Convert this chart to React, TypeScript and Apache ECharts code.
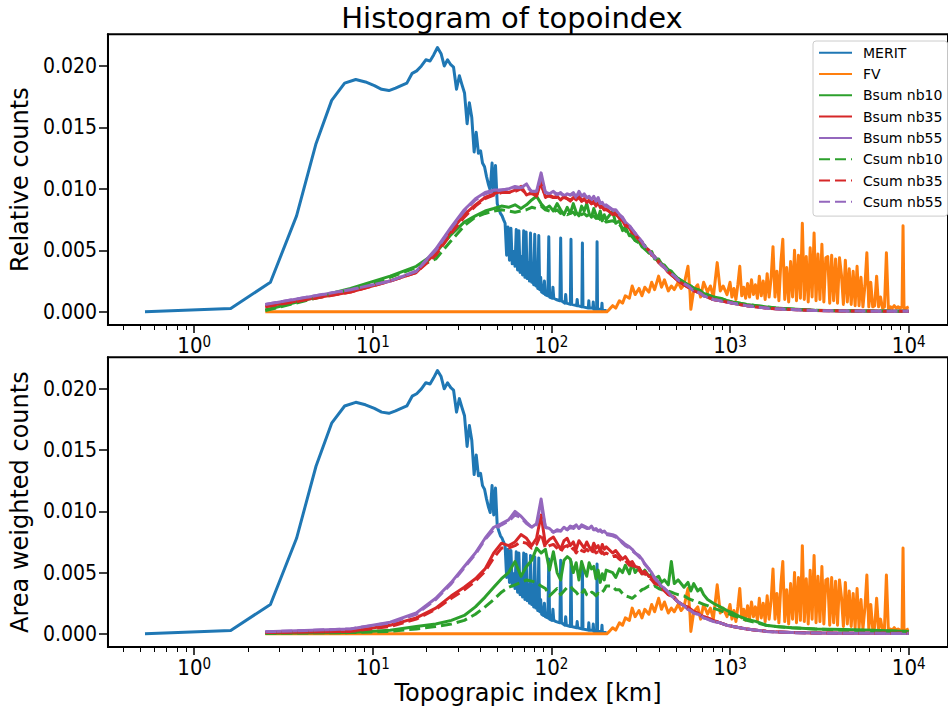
import React, { useEffect, useRef } from 'react';
import * as echarts from 'echarts';

// ---------- data (x in km, y = counts) ----------
const MERIT: [number, number][] = [
  [0.53, 0], [1.6, 0.00027], [2.67, 0.0024], [3.74, 0.0078], [4.81, 0.0137], [5.88, 0.0172],
  [6.95, 0.0186], [8.02, 0.0189], [9.09, 0.0187], [10.2, 0.0184], [11.2, 0.0181], [12.3, 0.018],
  [13.4, 0.0182], [14.4, 0.0184], [15.5, 0.0186], [16.6, 0.0194], [17.6, 0.0196], [18.7, 0.02],
  [19.8, 0.0205], [20.9, 0.0204], [21.9, 0.0209], [23.0, 0.0215], [24.1, 0.021], [25.1, 0.02],
  [26.2, 0.0205], [27.3, 0.0201], [28.3, 0.0199], [29.4, 0.0181], [30.5, 0.0192], [31.5, 0.0185],
  [32.6, 0.0178], [33.7, 0.0153], [34.7, 0.017], [35.8, 0.0158], [36.9, 0.013], [37.9, 0.0146],
  [39.0, 0.0129], [40.1, 0.0131], [41.1, 0.0121], [42.2, 0.0118], [43.3, 0.011], [44.3, 0.0104],
  [45.4, 0.0099], [46.5, 0.0121], [47.5, 0.0097], [48.6, 0.0119], [49.7, 0.0088], [50.7, 0.0084],
  [51.8, 0.008], [52.9, 0.0078], [53.9, 0.0075], [55.0, 0.0072], [56.1, 0.0046], [57.1, 0.0069],
  [58.2, 0.0042], [59.3, 0.0068], [60.3, 0.0039], [61.4, 0.0049], [62.5, 0.0037], [63.5, 0.0067],
  [64.6, 0.0034], [65.7, 0.0066], [66.7, 0.0032], [67.8, 0.0045], [68.9, 0.003], [69.9, 0.0066],
  [71.0, 0.0028], [72.1, 0.0065], [73.1, 0.0027], [74.2, 0.004], [75.3, 0.0025], [76.3, 0.0064],
  [77.4, 0.0024], [78.5, 0.0035], [79.5, 0.0022], [80.6, 0.0063], [81.7, 0.0021], [82.7, 0.003],
  [83.8, 0.0019], [84.9, 0.0062], [85.9, 0.0018], [87.0, 0.0028], [88.1, 0.0016], [90.2, 0.0015],
  [91.3, 0.0025], [92.3, 0.0014], [95.5, 0.0013], [96.6, 0.0061], [97.6, 0.0012], [100.8, 0.0011],
  [101.9, 0.002], [103.0, 0.0011], [106.2, 0.001], [111.5, 0.0009], [112.6, 0.006], [113.7, 0.0009],
  [119.0, 0.0007], [120.1, 0.0014], [121.2, 0.0007], [127.6, 0.0006], [128.6, 0.0059], [129.7, 0.0006],
  [138.3, 0.0005], [139.3, 0.001], [140.4, 0.0005], [148.0, 0.0004], [149.0, 0.0056], [150.1, 0.0004],
  [160.8, 0.0003], [161.8, 0.0009], [162.9, 0.0003], [170.4, 0.0003], [171.4, 0.0008], [172.5, 0.0002],
  [179.0, 0.0002], [180.0, 0.0057], [181.1, 0.0002], [190.7, 0.0002], [191.8, 0.0007], [192.8, 0.0001],
  [203.5, 0.0001],
];

const FV: [number, number][] = [
  [2.5, 0], [204, 0], [211, 0.0002], [220, 0.0005], [229, 0.0003], [240, 0.0009], [250, 0.0007],
  [259, 0.0013], [273, 0.0011], [283, 0.0021], [294, 0.0014], [309, 0.0019], [321, 0.0013],
  [333, 0.002], [351, 0.0016], [364, 0.0024], [378, 0.0018], [398, 0.0029], [413, 0.002],
  [429, 0.0026], [451, 0.0017], [469, 0.0021], [487, 0.0018], [512, 0.0024], [532, 0.0019],
  [552, 0.0022], [581, 0.0037], [597, 0.0015], [603, 0.0002], [626, 0.0018], [659, 0.0022],
  [684, 0.0012], [711, 0.0024], [748, 0.0016], [776, 0.0021], [806, 0.0012], [847, 0.004],
  [881, 0.0017], [914, 0.0021], [961, 0.0014],
  [999, 0.0024], [1024, 0.0012], [1051, 0.0019], [1078, 0.001], [1105, 0.0022], [1133, 0.0037],
  [1162, 0.0013], [1192, 0.002], [1222, 0.0011], [1253, 0.0023], [1285, 0.0012], [1318, 0.0026],
  [1352, 0.0014], [1386, 0.0022], [1422, 0.0011], [1458, 0.0029], [1495, 0.0013], [1533, 0.0025],
  [1572, 0.001], [1613, 0.0031], [1654, 0.0012], [1696, 0.0027], [1739, 0.0053], [1784, 0.0012],
  [1829, 0.0033], [1876, 0.0009], [1924, 0.004], [1973, 0.0059], [2023, 0.001], [2075, 0.0036],
  [2128, 0.0008], [2182, 0.0041], [2238, 0.0012], [2295, 0.005], [2353, 0.0009], [2414, 0.0046],
  [2475, 0.0011], [2538, 0.0072], [2603, 0.001], [2670, 0.0045], [2738, 0.0008], [2808, 0.0052],
  [2879, 0.0012], [2953, 0.0064], [3028, 0.0009], [3105, 0.0047], [3185, 0.001], [3266, 0.0055],
  [3349, 0.0008], [3435, 0.0044], [3522, 0.0045], [3612, 0.0007], [3704, 0.0046], [3799, 0.0009],
  [3896, 0.0043], [3995, 0.0007], [4097, 0.0044], [4202, 0.003], [4309, 0.0006], [4419, 0.0042],
  [4532, 0.0008], [4647, 0.0035], [4766, 0.0006], [4888, 0.0033], [5012, 0.0005], [5140, 0.0037],
  [5272, 0.0005], [5406, 0.0028], [5544, 0.0004], [5686, 0.0021], [5831, 0.0048], [5979, 0.0004],
  [6132, 0.0024], [6288, 0.0004], [6449, 0.0005], [6613, 0.0029], [6782, 0.0004], [6955, 0.0012],
  [7133, 0.0003], [7315, 0.0004], [7502, 0.0048], [7693, 0.0003], [7889, 0.0004], [8091, 0.0003],
  [8297, 0.0005], [8509, 0.0003], [8726, 0.0004], [8949, 0.0003], [9177, 0.0004], [9296, 0.007],
  [9411, 0.0003], [9652, 0.0003], [10000, 0.0004],
];

// bin centres (km) shared by the Bsum / Csum histograms
const BIN_X = [
  2.5, 7.5, 12.5, 17.5, 22.5, 27.5, 32.5, 37.5, 42.5, 47.5, 52.5, 57.5, 62.5, 67.5, 72.5, 77.5,
  82.5, 87.5, 92.5, 97.5, 102.5, 107.5, 112.5, 117.5, 122.5, 127.5, 132.5, 137.5, 142.5, 147.5,
  152.5, 157.5, 162.5, 167.5, 172.5, 177.5, 182.5, 187.5, 192.5, 197.5, 202.5,
  220, 229, 240, 250, 259, 273, 283, 294, 309, 321, 333, 351, 364, 378, 398, 413, 429, 451, 469,
  487, 512, 552, 581, 603, 626, 659, 684, 711, 748, 806, 881, 961, 1037, 1133, 1238, 1404, 1593,
  1806, 2210, 2991, 4365, 6370, 10000,
];

// ----- top panel: relative counts -----
const REL_BSUM_NB10 = [
  0.00015, 0.0019, 0.0029, 0.0037, 0.0048, 0.0063, 0.0073, 0.0078, 0.0082, 0.0084, 0.0086, 0.0085, 0.0087, 0.0084,
  0.0087, 0.0091, 0.0094, 0.0088, 0.0084, 0.0086, 0.0082, 0.0088, 0.0083, 0.0079, 0.0085, 0.008, 0.0088, 0.0081,
  0.0078, 0.0086, 0.0082, 0.0088, 0.008, 0.0077, 0.0084, 0.0079, 0.0076, 0.0082, 0.0074, 0.0079, 0.0075,
  0.0082, 0.0072, 0.0074, 0.0066, 0.0069, 0.0062, 0.0064, 0.0058, 0.0057, 0.0053, 0.0054, 0.0048, 0.0049, 0.0043,
  0.0043, 0.0039, 0.0038, 0.0034, 0.0033, 0.003, 0.0027, 0.0024, 0.0022, 0.0021, 0.0019, 0.0018, 0.0017, 0.0015,
  0.0014, 0.0012, 0.0011, 0.0009, 0.0008, 0.0007, 0.0006, 0.0005, 0.0004, 0.0003, 0.00022, 0.00013, 0.00008,
  0.00006, 0.00005,
];
const REL_BSUM_NB35 = [
  0.00045, 0.0016, 0.0025, 0.0032, 0.0048, 0.0066, 0.0079, 0.0087, 0.0093, 0.0096, 0.0098, 0.0097, 0.0099, 0.0102,
  0.0095, 0.0097, 0.0094, 0.0106, 0.0093, 0.0095, 0.0093, 0.0094, 0.0091, 0.0094, 0.0092, 0.009, 0.0093, 0.0091,
  0.0095, 0.009, 0.0092, 0.0089, 0.0091, 0.0088, 0.009, 0.0086, 0.0089, 0.0085, 0.0086, 0.0083, 0.0084,
  0.0079, 0.0081, 0.0076, 0.0074, 0.007, 0.0069, 0.0064, 0.0063, 0.0058, 0.0057, 0.0052, 0.005, 0.0046, 0.0045,
  0.004, 0.0038, 0.0036, 0.0032, 0.003, 0.0028, 0.0025, 0.0022, 0.002, 0.0019, 0.0017, 0.0016, 0.0015, 0.0013,
  0.0012, 0.001, 0.0009, 0.0008, 0.0007, 0.0006, 0.0005, 0.0004, 0.0003, 0.00025, 0.00018, 0.0001, 0.00007,
  0.00005, 0.00004,
];
const REL_BSUM_NB55 = [
  0.0006, 0.0018, 0.0025, 0.0033, 0.0051, 0.0069, 0.0083, 0.0092, 0.0097, 0.0099, 0.0099, 0.01, 0.0102, 0.0101,
  0.0104, 0.0097, 0.0098, 0.0113, 0.0097, 0.0096, 0.0098, 0.0095, 0.0097, 0.0094, 0.0096, 0.0095, 0.0097, 0.0093,
  0.0098, 0.0094, 0.0096, 0.0093, 0.0094, 0.0091, 0.0094, 0.009, 0.0093, 0.0088, 0.0089, 0.0086, 0.0087,
  0.0083, 0.0083, 0.0079, 0.0077, 0.0073, 0.007, 0.0067, 0.0064, 0.006, 0.0057, 0.0053, 0.005, 0.0047, 0.0045,
  0.0041, 0.0039, 0.0036, 0.0033, 0.0031, 0.0029, 0.0026, 0.0023, 0.0021, 0.0019, 0.0017, 0.0016, 0.0015, 0.0013,
  0.0012, 0.001, 0.0009, 0.0008, 0.0007, 0.0006, 0.0005, 0.0004, 0.0003, 0.00025, 0.00018, 0.0001, 0.00007,
  0.00005, 0.00004,
];
const REL_CSUM_NB10 = [
  0.0001, 0.0018, 0.0028, 0.0036, 0.0043, 0.0058, 0.007, 0.0077, 0.008, 0.0082, 0.0083, 0.0082, 0.0081, 0.0082,
  0.0083, 0.0085, 0.0084, 0.0086, 0.0083, 0.0082, 0.0081, 0.0083, 0.008, 0.0081, 0.0079, 0.008, 0.0081, 0.0078,
  0.008, 0.0079, 0.008, 0.0078, 0.0079, 0.0077, 0.0078, 0.0076, 0.0077, 0.0075, 0.0074, 0.0075, 0.0073,
  0.0074, 0.0073, 0.0071, 0.0068, 0.0066, 0.0063, 0.0061, 0.0058, 0.0056, 0.0053, 0.0051, 0.0048, 0.0046, 0.0044,
  0.0041, 0.0039, 0.0037, 0.0034, 0.0032, 0.003, 0.0027, 0.0024, 0.0022, 0.0021, 0.0019, 0.0018, 0.0017, 0.0015,
  0.0014, 0.0012, 0.0011, 0.0009, 0.0008, 0.0007, 0.0006, 0.0005, 0.0004, 0.0003, 0.00022, 0.00013, 0.00008,
  0.00006, 0.00005,
];
const REL_CSUM_NB35 = [
  0.0004, 0.0016, 0.0025, 0.0032, 0.0046, 0.0064, 0.0077, 0.0086, 0.0092, 0.0095, 0.0097, 0.0097, 0.0098, 0.01,
  0.0096, 0.0096, 0.0095, 0.0103, 0.0094, 0.0094, 0.0093, 0.0093, 0.0092, 0.0093, 0.0092, 0.0091, 0.0092, 0.0091,
  0.0093, 0.009, 0.0091, 0.0089, 0.009, 0.0088, 0.0089, 0.0087, 0.0088, 0.0085, 0.0085, 0.0083, 0.0083,
  0.008, 0.0079, 0.0077, 0.0074, 0.0071, 0.0068, 0.0065, 0.0062, 0.0059, 0.0056, 0.0053, 0.005, 0.0047, 0.0044,
  0.0041, 0.0038, 0.0036, 0.0033, 0.003, 0.0028, 0.0025, 0.0022, 0.002, 0.0019, 0.0017, 0.0016, 0.0015, 0.0013,
  0.0012, 0.001, 0.0009, 0.0008, 0.0007, 0.0006, 0.0005, 0.0004, 0.0003, 0.00025, 0.00018, 0.0001, 0.00007,
  0.00005, 0.00004,
];
const REL_CSUM_NB55 = [
  0.0006, 0.0018, 0.0025, 0.0033, 0.005, 0.0068, 0.0082, 0.0091, 0.0096, 0.0098, 0.0099, 0.01, 0.0101, 0.0101,
  0.0102, 0.0098, 0.0098, 0.0109, 0.0097, 0.0096, 0.0097, 0.0096, 0.0096, 0.0095, 0.0095, 0.0095, 0.0096, 0.0094,
  0.0096, 0.0094, 0.0095, 0.0093, 0.0093, 0.0092, 0.0093, 0.009, 0.0092, 0.0088, 0.0088, 0.0086, 0.0086,
  0.0083, 0.0081, 0.0079, 0.0076, 0.0073, 0.007, 0.0067, 0.0064, 0.006, 0.0057, 0.0053, 0.005, 0.0047, 0.0044,
  0.0041, 0.0038, 0.0036, 0.0033, 0.0031, 0.0029, 0.0026, 0.0023, 0.0021, 0.0019, 0.0017, 0.0016, 0.0015, 0.0013,
  0.0012, 0.001, 0.0009, 0.0008, 0.0007, 0.0006, 0.0005, 0.0004, 0.0003, 0.00025, 0.00018, 0.0001, 0.00007,
  0.00005, 0.00004,
];

// ----- bottom panel: area weighted counts -----
const AW_BSUM_NB10 = [
  0.00005, 0.0001, 0.0003, 0.0006, 0.0008, 0.0011, 0.0015, 0.0022, 0.003, 0.0038, 0.0045, 0.005, 0.0059, 0.0047,
  0.0055, 0.006, 0.007, 0.0066, 0.0069, 0.0052, 0.0067, 0.005, 0.0044, 0.006, 0.0063, 0.0061, 0.005, 0.0058,
  0.0044, 0.0059, 0.0052, 0.0047, 0.0058, 0.0053, 0.0055, 0.0045, 0.0052, 0.0042, 0.0049, 0.0044, 0.0052,
  0.005, 0.0046, 0.0053, 0.005, 0.0056, 0.0049, 0.0058, 0.005, 0.0054, 0.0049, 0.0052, 0.0047, 0.0049, 0.0045,
  0.0047, 0.0042, 0.0044, 0.004, 0.0059, 0.0041, 0.0044, 0.0038, 0.0042, 0.0035, 0.0041, 0.0035, 0.0037, 0.0032,
  0.0028, 0.0025, 0.0022, 0.0019, 0.0017, 0.0014, 0.0012, 0.001, 0.0007, 0.0006, 0.0005, 0.0004, 0.00035, 0.0003,
  0.0002,
];
const AW_BSUM_NB35 = [
  0.0001, 0.0002, 0.0007, 0.0013, 0.0021, 0.0031, 0.0038, 0.0045, 0.0053, 0.0066, 0.0074, 0.0072, 0.0075, 0.0081,
  0.0078, 0.0072, 0.0078, 0.0097, 0.0073, 0.0077, 0.0079, 0.0074, 0.0069, 0.0076, 0.0078, 0.0072, 0.0075, 0.0069,
  0.0076, 0.0073, 0.007, 0.0075, 0.0071, 0.0068, 0.0074, 0.007, 0.0072, 0.0067, 0.0073, 0.0069, 0.0071,
  0.0066, 0.0068, 0.0064, 0.0061, 0.0063, 0.0058, 0.0059, 0.0055, 0.0054, 0.005, 0.0051, 0.0047, 0.0046, 0.0042,
  0.0041, 0.0037, 0.0036, 0.0032, 0.0031, 0.003, 0.0026, 0.0023, 0.0022, 0.002, 0.0018, 0.0017, 0.0015, 0.0014,
  0.0013, 0.0011, 0.0009, 0.0007, 0.0006, 0.0005, 0.0004, 0.0003, 0.00022, 0.00016, 0.00011, 0.00007, 0.00005,
  0.00004, 0.00004,
];
const AW_BSUM_NB55 = [
  0.00016, 0.0004, 0.00095, 0.0017, 0.0029, 0.0042, 0.0055, 0.0066, 0.0078, 0.0087, 0.009, 0.0093, 0.01, 0.0096,
  0.0091, 0.0087, 0.009, 0.011, 0.0087, 0.0086, 0.0083, 0.0085, 0.0084, 0.0087, 0.0085, 0.0088, 0.0087, 0.0089,
  0.0086, 0.0089, 0.0088, 0.0087, 0.0086, 0.0088, 0.0085, 0.0086, 0.0084, 0.0085, 0.0083, 0.0084, 0.0082,
  0.0081, 0.008, 0.0077, 0.0075, 0.0073, 0.0071, 0.0069, 0.0066, 0.0064, 0.0061, 0.0057, 0.0053, 0.005, 0.0045,
  0.0042, 0.0039, 0.0037, 0.0034, 0.0031, 0.0029, 0.0026, 0.0023, 0.002, 0.0019, 0.0017, 0.0016, 0.0015, 0.0013,
  0.0012, 0.001, 0.0009, 0.0007, 0.0006, 0.0005, 0.0004, 0.0003, 0.0002, 0.00015, 0.0001, 0.00006, 0.00005,
  0.00004, 0.00003,
];
const AW_CSUM_NB10 = [
  0.00005, 0.0001, 0.0002, 0.0004, 0.0006, 0.0008, 0.0011, 0.0016, 0.0022, 0.0028, 0.0034, 0.0038, 0.004, 0.0042,
  0.0044, 0.0043, 0.0042, 0.0039, 0.0037, 0.0031, 0.0034, 0.0037, 0.0032, 0.0035, 0.0038, 0.0039, 0.0036, 0.0034,
  0.0031, 0.0033, 0.0036, 0.0032, 0.0031, 0.0034, 0.0033, 0.0031, 0.0033, 0.0032, 0.0034, 0.0036, 0.0039,
  0.0039, 0.0036, 0.0036, 0.0033, 0.0031, 0.003, 0.0029, 0.0031, 0.0034, 0.0036, 0.0037, 0.0039, 0.0038, 0.0039,
  0.0037, 0.0036, 0.0036, 0.0035, 0.0034, 0.0033, 0.0032, 0.0031, 0.0029, 0.0028, 0.0027, 0.0026, 0.0025, 0.0024,
  0.0023, 0.0021, 0.0019, 0.0017, 0.0015, 0.0013, 0.0011, 0.0009, 0.0007, 0.0006, 0.0005, 0.0004, 0.0003, 0.00025,
  0.0002,
];
const AW_CSUM_NB35 = [
  0.0001, 0.0002, 0.0006, 0.0012, 0.002, 0.0029, 0.0036, 0.0043, 0.0051, 0.0062, 0.007, 0.007, 0.0072, 0.0075,
  0.0074, 0.007, 0.0073, 0.0082, 0.007, 0.0072, 0.0073, 0.007, 0.0067, 0.0071, 0.0072, 0.0068, 0.007, 0.0066,
  0.007, 0.0068, 0.0067, 0.0069, 0.0067, 0.0065, 0.0069, 0.0066, 0.0067, 0.0064, 0.0067, 0.0065, 0.0066,
  0.0063, 0.0064, 0.0061, 0.0059, 0.006, 0.0056, 0.0056, 0.0053, 0.0052, 0.0049, 0.0049, 0.0046, 0.0044, 0.0041,
  0.004, 0.0037, 0.0035, 0.0032, 0.0031, 0.0029, 0.0026, 0.0023, 0.0021, 0.002, 0.0018, 0.0017, 0.0015, 0.0014,
  0.0013, 0.0011, 0.0009, 0.0007, 0.0006, 0.0005, 0.0004, 0.0003, 0.00022, 0.00016, 0.00011, 0.00007, 0.00005,
  0.00004, 0.00004,
];
const AW_CSUM_NB55 = [
  0.00016, 0.0004, 0.0009, 0.0016, 0.0028, 0.0041, 0.0054, 0.0065, 0.0077, 0.0085, 0.0089, 0.0092, 0.0097, 0.0095,
  0.009, 0.0087, 0.0089, 0.0104, 0.0087, 0.0085, 0.0083, 0.0084, 0.0084, 0.0086, 0.0085, 0.0087, 0.0086, 0.0088,
  0.0086, 0.0088, 0.0087, 0.0086, 0.0086, 0.0087, 0.0085, 0.0085, 0.0084, 0.0084, 0.0083, 0.0083, 0.0081,
  0.008, 0.0079, 0.0077, 0.0074, 0.0072, 0.007, 0.0068, 0.0066, 0.0063, 0.006, 0.0057, 0.0053, 0.0049, 0.0046,
  0.0042, 0.0039, 0.0037, 0.0034, 0.0031, 0.0029, 0.0026, 0.0023, 0.002, 0.0019, 0.0017, 0.0016, 0.0015, 0.0013,
  0.0012, 0.001, 0.0009, 0.0007, 0.0006, 0.0005, 0.0004, 0.0003, 0.0002, 0.00015, 0.0001, 0.00006, 0.00005,
  0.00004, 0.00003,
];

// axis ticks
const X_MAJOR_EXP = [0, 1, 2, 3, 4];
const X_MINOR_MULT = [2, 3, 4, 5, 6, 7, 8, 9];
const Y_TICKS = [0, 0.005, 0.01, 0.015, 0.02];
const X_MIN = -0.483; // log10 of km
const X_MAX = 4.22;
const Y_MIN = -0.001075;
const Y_MAX = 0.022575;

const NAMES = ['MERIT', 'FV', 'Bsum nb10', 'Bsum nb35', 'Bsum nb55', 'Csum nb10', 'Csum nb35', 'Csum nb55'];
const COLORS = ['#1f77b4', '#ff7f0e', '#2ca02c', '#d62728', '#9467bd', '#2ca02c', '#d62728', '#9467bd'];

const FONT = "'DejaVu Sans', sans-serif";
const TICK_FONT = "'DejaVu Sans Condensed', 'DejaVu Sans', sans-serif";

const logPts = (pts: [number, number][]) => pts.map(([x, y]) => [Math.log10(x), y]);
const binPts = (ys: number[]) => ys.map((y, i) => [Math.log10(BIN_X[i]), y]);

const minorTicks: number[] = [];
for (let e = -1; e <= 4; e++) {
  for (const m of X_MINOR_MULT) {
    const v = Math.log10(m) + e;
    if (v > X_MIN && v < X_MAX) minorTicks.push(v);
  }
}

function panelSeries(gi: number, sets: number[][]) {
  const datas = [logPts(MERIT), logPts(FV), ...sets.map(binPts)];
  return datas.map((data, k) => ({
    type: 'line',
    name: NAMES[k],
    data,
    xAxisIndex: gi * 2,
    yAxisIndex: gi,
    symbol: 'none',
    showSymbol: false,
    silent: true,
    z: 2 + k * 0.01,
    lineStyle: { color: COLORS[k], width: 3, type: k >= 5 ? [11, 5] : 'solid', join: 'round' },
    itemStyle: { color: COLORS[k] },
  }));
}

function yAxisDef(gi: number, name: string) {
  return {
    type: 'value',
    gridIndex: gi,
    min: Y_MIN,
    max: Y_MAX,
    name,
    nameLocation: 'middle',
    nameGap: 62,
    nameTextStyle: { fontSize: 24, fontFamily: FONT, color: '#000' },
    axisLine: { show: true, onZero: false, lineStyle: { color: '#000', width: 2 } },
    axisTick: { show: true, customValues: Y_TICKS, length: 9, lineStyle: { color: '#000', width: 1.5 } },
    axisLabel: {
      customValues: Y_TICKS,
      formatter: (v: number) => v.toFixed(3),
      fontSize: 21,
      fontFamily: TICK_FONT,
      color: '#000',
      margin: 11,
    },
    splitLine: { show: false },
  };
}

function xMajorDef(gi: number, name: string) {
  return {
    type: 'value',
    gridIndex: gi,
    min: X_MIN,
    max: X_MAX,
    position: 'bottom',
    name,
    nameLocation: 'middle',
    nameGap: 34,
    nameTextStyle: { fontSize: 24, fontFamily: FONT, color: '#000' },
    axisLine: { show: true, onZero: false, lineStyle: { color: '#000', width: 2 } },
    axisTick: { show: true, customValues: X_MAJOR_EXP, length: 8, lineStyle: { color: '#000', width: 1.5 } },
    axisLabel: {
      customValues: X_MAJOR_EXP,
      margin: 9,
      formatter: (v: number) => `{b|10}{s|${Math.round(v)}}`,
      rich: {
        b: { fontSize: 22, fontFamily: TICK_FONT, color: '#000', lineHeight: 22, verticalAlign: 'bottom' },
        s: { fontSize: 15, fontFamily: TICK_FONT, color: '#000', lineHeight: 22, verticalAlign: 'top' },
      },
    },
    splitLine: { show: false },
  };
}

function xMinorDef(gi: number) {
  return {
    type: 'value',
    gridIndex: gi,
    min: X_MIN,
    max: X_MAX,
    position: 'bottom',
    axisLine: { show: false, onZero: false },
    axisTick: { show: true, customValues: minorTicks, length: 5, lineStyle: { color: '#000', width: 1 } },
    axisLabel: { show: false },
    splitLine: { show: false },
  };
}

const option = {
  animation: false,
  backgroundColor: '#ffffff',
  graphic: [
    {
      type: 'text',
      x: 512,
      y: 3,
      style: {
        text: 'Histogram of topoindex',
        fontSize: 29,
        fontFamily: FONT,
        fill: '#000',
        align: 'center',
        verticalAlign: 'top',
      },
    },
  ],
  grid: [
    { left: 97, top: 34.3, width: 860, height: 290.7, show: true, borderColor: '#000', borderWidth: 2, backgroundColor: 'transparent' },
    { left: 97, top: 357.3, width: 860, height: 290.4, show: true, borderColor: '#000', borderWidth: 2, backgroundColor: 'transparent' },
  ],
  legend: {
    data: NAMES,
    orient: 'vertical',
    left: 813,
    top: 41,
    itemWidth: 33,
    itemHeight: 14,
    itemGap: 7.3,
    padding: [4.7, 5, 7.3, 5],
    borderColor: '#cccccc',
    borderWidth: 1,
    borderRadius: 3,
    backgroundColor: 'rgba(255,255,255,0.85)',
    selectedMode: false,
    itemStyle: { opacity: 0 },
    textStyle: { fontSize: 14, fontFamily: FONT, color: '#000', padding: [0, 0, 0, 6] },
  },
  xAxis: [xMajorDef(0, ''), xMinorDef(0), xMajorDef(1, 'Topograpic index [km]'), xMinorDef(1)],
  yAxis: [yAxisDef(0, 'Relative counts'), yAxisDef(1, 'Area weighted counts')],
  series: [
    ...panelSeries(0, [REL_BSUM_NB10, REL_BSUM_NB35, REL_BSUM_NB55, REL_CSUM_NB10, REL_CSUM_NB35, REL_CSUM_NB55]),
    ...panelSeries(1, [AW_BSUM_NB10, AW_BSUM_NB35, AW_BSUM_NB55, AW_CSUM_NB10, AW_CSUM_NB35, AW_CSUM_NB55]),
  ],
};

export default function App() {
  const ref = useRef<HTMLDivElement>(null);
  useEffect(() => {
    if (!ref.current) return;
    const chart = echarts.init(ref.current, undefined, { renderer: 'svg' });
    chart.setOption(option as any);
    return () => chart.dispose();
  }, []);
  return (
    <div
      ref={ref}
      style={{ position: 'absolute', left: 0, top: 0, width: 948, height: 706, background: '#fff', overflow: 'hidden' }}
    />
  );
}
